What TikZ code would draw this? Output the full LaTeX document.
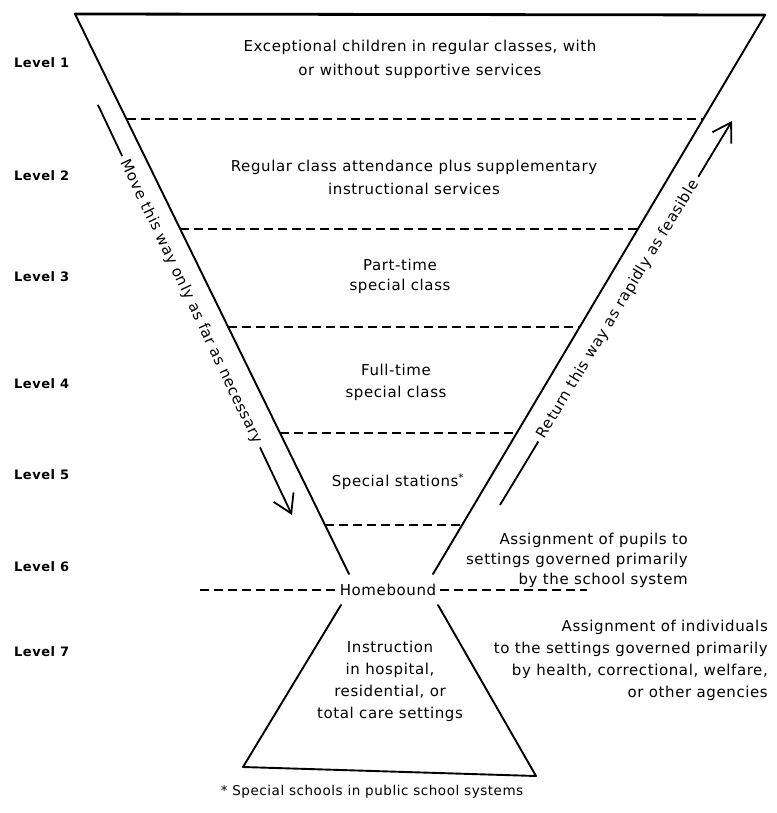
\documentclass[tikz,border=0pt]{standalone}
\usepackage{fontspec}
\setmainfont{DejaVu Sans}[LetterSpace=4]
\usetikzlibrary{arrows.meta}
\begin{document}
\begin{tikzpicture}[x=1pt,y=-1pt,
  edge/.style={line width=1.9pt, line cap=round, line join=round},
  topedge/.style={line width=2.8pt, line cap=round},
  dashline/.style={line width=2.2pt, dash pattern=on 9pt off 5pt},
  lbl/.style={font=\fontsize{15}{22}\selectfont, align=center, inner sep=0pt},
  rlbl/.style={font=\fontsize{15}{21}\selectfont, align=right, anchor=east, inner sep=0pt},
  lvl/.style={font=\bfseries\fontsize{13}{15}\selectfont, anchor=west, inner sep=0pt},
  arrowtext/.style={font=\fontsize{15}{18}\selectfont, sloped, inner xsep=5pt, inner ysep=2pt},
  move/.style={line width=1.8pt},
  movetip/.style={-{Straight Barb[length=18pt,width=22pt]}}]
\useasboundingbox (0,0) rectangle (776,813);

% main inverted triangle
\coordinate (TL) at (75,14);
\coordinate (TR) at (765,15);
\coordinate (BL) at (349,574);
\coordinate (BR) at (433,574);
\draw[topedge] (TL) -- (TR);
\draw[edge] (TL) -- (BL);
\draw[edge] (TR) -- (BR);

% lower trapezoid
\coordinate (HL) at (341,605);
\coordinate (HR) at (438,605);
\coordinate (PL) at (243,767);
\coordinate (PR) at (536,776);
\draw[edge] (HL) -- (PL) -- (PR) -- (HR);

% dashed level lines
\draw[dashline] (127,119) -- (703,119);
\draw[dashline] (180,229) -- (637,229);
\draw[dashline] (228,327) -- (579,327);
\draw[dashline] (280,433) -- (516,433);
\draw[dashline] (325,525) -- (461,525);

% homebound
\node[font=\fontsize{15}{18}\selectfont, inner xsep=4pt, inner ysep=1pt] (hb) at (388,590) {Homebound};
\coordinate (hbl) at (200,590);
\coordinate (hbr) at (587,590);
\draw[dashline] (hbl) -- (hb.west);
\draw[dashline] (hb.east) -- (hbr);

% level labels
\node[lvl] (l1) at (14,63) {Level 1};
\node[lvl] (l2) at (14,176) {Level 2};
\node[lvl] (l3) at (14,277) {Level 3};
\node[lvl] (l4) at (14,384) {Level 4};
\node[lvl] (l5) at (14,475) {Level 5};
\node[lvl] (l6) at (14,567) {Level 6};
\node[lvl] (l7) at (14,652) {Level 7};

% texts inside
\node[lbl, font=\fontsize{15}{24}\selectfont] (t1) at (420,59) {Exceptional children in regular classes, with\\or without supportive services};
\node[lbl, font=\fontsize{15}{23}\selectfont] (t2) at (414,177) {Regular class attendance plus supplementary\\instructional services};
\node[lbl, font=\fontsize{15}{20}\selectfont] (t3) at (400,276) {Part-time\\special class};
\node[lbl] (t4) at (396,382) {Full-time\\special class};
\node[lbl] (t5) at (398,482) {Special stations\textsuperscript{*}};
\node[lbl] (t7) at (390,681) {Instruction\\in hospital,\\residential, or\\total care settings};

% right-side texts
\node[rlbl, font=\fontsize{15}{20}\selectfont] (t8) at (688,560) {Assignment of pupils to\\settings governed primarily\\by the school system};
\node[rlbl, font=\fontsize{15}{22}\selectfont] (t9) at (768,660) {Assignment of individuals\\to the settings governed primarily\\by health, correctional, welfare,\\or other agencies};

% footnote
\node[font=\fontsize{13.5}{16}\selectfont, inner sep=0pt] (fn) at (372,792) {* Special schools in public school systems};

% left arrow
\coordinate (la1) at (98,105);
\coordinate (la2) at (292,515);
\path (la1) -- (la2) node[arrowtext, pos=0.48] (ltext) {Move this way only as far as necessary};
\draw[move] (la1) -- (ltext);
\draw[move, movetip] (ltext) -- (la2);

% right arrow
\coordinate (ra1) at (500,505);
\coordinate (ra2) at (732,121);
\path (ra1) -- (ra2) node[arrowtext, pos=0.51] (rtext) {Return this way as rapidly as feasible};
\draw[move] (ra1) -- (rtext);
\draw[move, movetip] (rtext) -- (ra2);
\end{tikzpicture}
\end{document}
